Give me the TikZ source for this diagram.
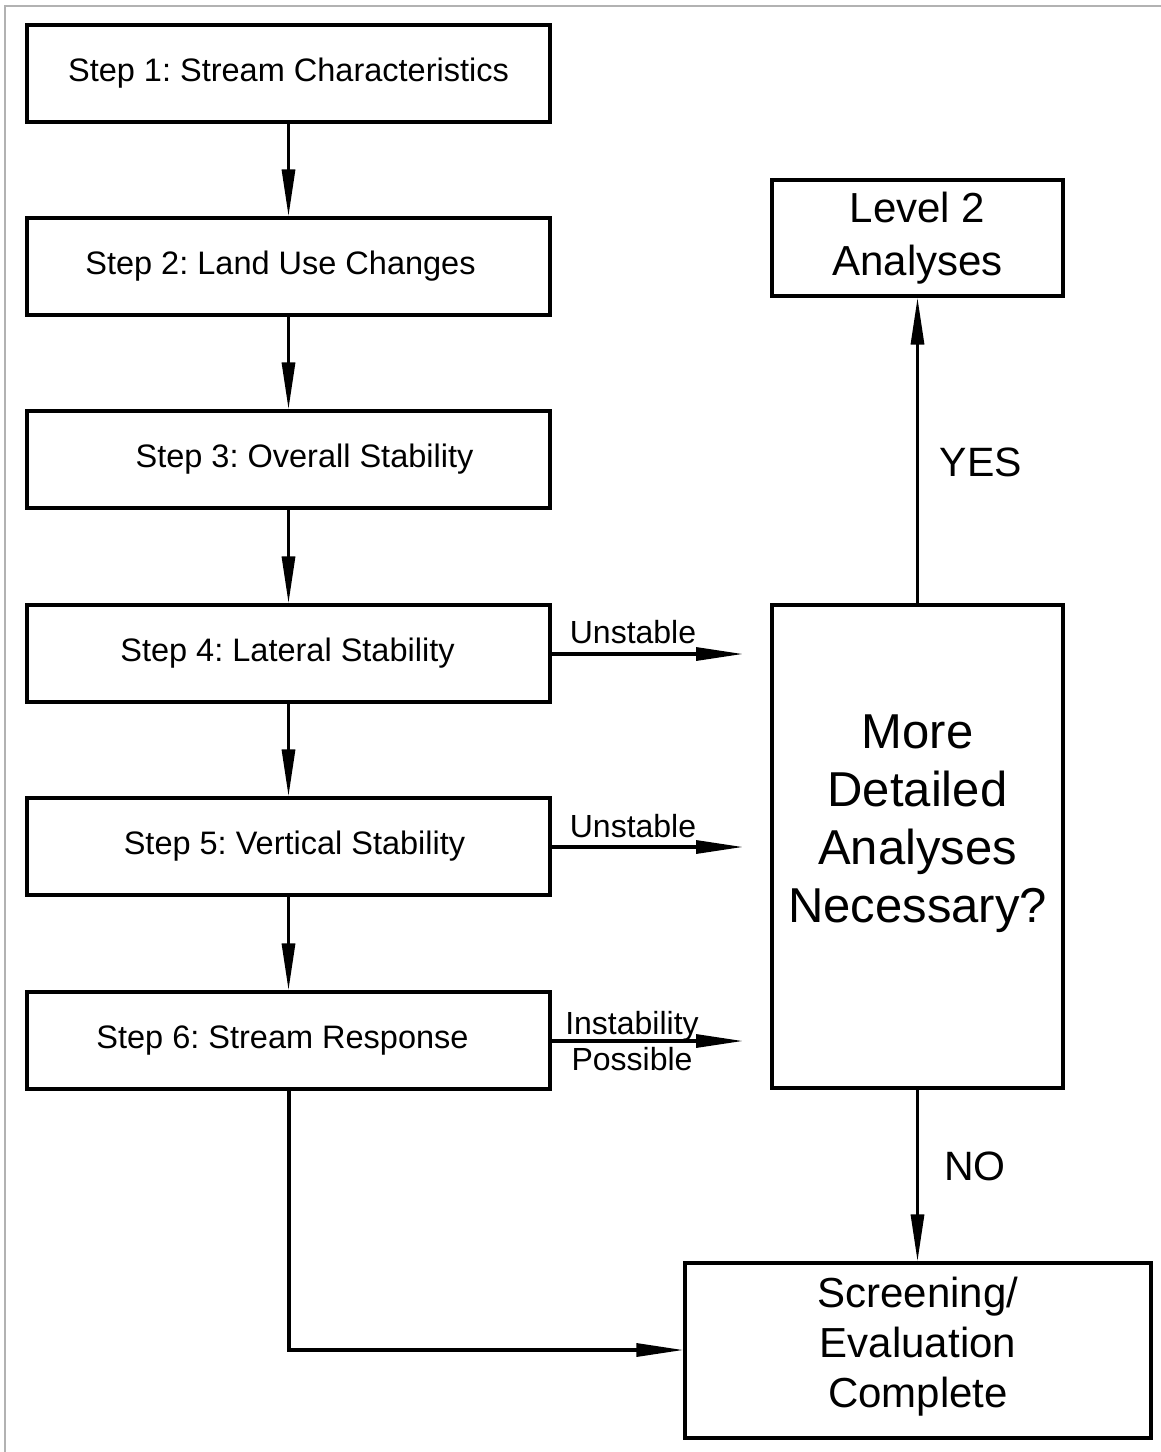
\documentclass[tikz,border=0pt]{standalone}
\usepackage{fontspec}
\setmainfont{Liberation Sans}
\usetikzlibrary{arrows.meta}
\frenchspacing
\begin{document}
\begin{tikzpicture}[x=1pt,y=-1pt,
  box/.style={draw,line width=3.2pt,rectangle,inner sep=0pt,align=center},
  stepbox/.style={box,minimum width=523pt,minimum height=97pt},
  steptext/.style={font=\fontsize{32.5}{38}\selectfont,inner sep=0pt},
  conn/.style={line width=3.2pt,-{Triangle[length=47pt,width=13pt]}},
  lbl/.style={font=\fontsize{32}{38}\selectfont,inner sep=0pt,align=center},
  big/.style={font=\fontsize{41}{50}\selectfont,inner sep=0pt}]
\useasboundingbox (0,0) rectangle (1161,1452);
\draw[line width=2pt,black!30] (5,1452) -- (5,6) -- (1161,6);
\node[stepbox] (s1) at (288.5,73.5) {};
\node[stepbox] (s2) at (288.5,266.5) {};
\node[stepbox] (s3) at (288.5,459.5) {};
\node[stepbox] (s4) at (288.5,653.5) {};
\node[stepbox] (s5) at (288.5,846.5) {};
\node[stepbox] (s6) at (288.5,1040.5) {};
\node[steptext] (t1) at ([xshift=0pt]s1.center) {Step 1: Stream Characteristics};
\node[steptext] (t2) at ([xshift=-8pt]s2.center) {Step 2: Land Use Changes};
\node[steptext] (t3) at ([xshift=16pt]s3.center) {Step 3: Overall Stability};
\node[steptext] (t4) at ([xshift=-1pt]s4.center) {Step 4: Lateral Stability};
\node[steptext] (t5) at ([xshift=6pt]s5.center) {Step 5: Vertical Stability};
\node[steptext] (t6) at ([xshift=-6pt]s6.center) {Step 6: Stream Response};
\node[box,minimum width=291pt,minimum height=116pt,font=\fontsize{42}{53}\selectfont] (l2) at (917.5,238) {Level 2\\Analyses};
\node[box,minimum width=291pt,minimum height=483pt] (q) at (917.5,846.5) {};
\node[font=\fontsize{49}{58}\selectfont,inner sep=0pt,align=center] (qt) at ([yshift=23pt]q.center) {More\\Detailed\\Analyses\\Necessary?};
\node[box,minimum width=466pt,minimum height=175pt,font=\fontsize{42}{50}\selectfont] (sc) at (918,1350.5) {};
\node[font=\fontsize{42}{50}\selectfont,inner sep=0pt,align=center] (sct) at ([yshift=4pt]sc.center) {Screening/\\Evaluation\\Complete};
\coordinate (e4) at (743,654);
\coordinate (e5) at (743,847);
\coordinate (e6) at (743,1041);
\coordinate (bend) at (289,1350);
\draw[conn] (s1) -- (s2);
\draw[conn] (s2) -- (s3);
\draw[conn] (s3) -- (s4);
\draw[conn] (s4) -- (s5);
\draw[conn] (s5) -- (s6);
\draw[conn] (s4.east |- e4) -- (e4);
\draw[conn] (s5.east |- e5) -- (e5);
\draw[conn] (s6.east |- e6) -- (e6);
\draw[conn] (q) -- (l2);
\draw[conn] (q) -- (q.south |- sc.north);
\draw[conn] (s6.south -| bend) -- (bend) -- (sc.west |- bend);
\node[lbl] (u4) at (633,632) {Unstable};
\node[lbl] (u5) at (633,826) {Unstable};
\node[lbl] (ip) at (632,1041) {Instability\\[-2pt]Possible};
\node[big] (yes) at (981,462) {YES};
\node[big] (no) at (975,1166) {NO};
\end{tikzpicture}
\end{document}
